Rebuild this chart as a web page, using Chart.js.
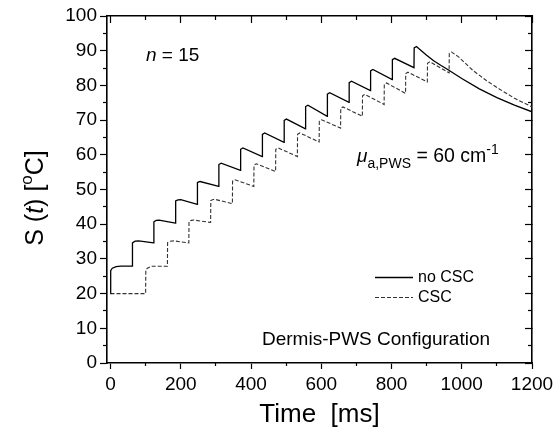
<!DOCTYPE html>
<html>
<head>
<meta charset="utf-8">
<script src="https://cdn.jsdelivr.net/npm/chart.js@4.4.1/dist/chart.umd.min.js"></script>
<style>
    html, body { margin: 0; padding: 0; background: #fff; }
    #chart { display: block; }
</style>
</head>
<body>
<canvas id="chart" width="553" height="434"></canvas>
<script>
(function () {
    "use strict";

    // values (time in ms, temperature in oC)
    var noCscTime = [0, 0.5, 5, 16, 30, 62,
        62.5, 70, 80, 123,
        123.5, 130, 138, 185,
        185.5, 192, 200, 247,
        247.5, 255, 308,
        308.5, 315, 370,
        370.5, 377, 432,
        432.5, 439, 494,
        494.5, 501, 555,
        555.5, 562, 617,
        617.5, 624, 679,
        679.5, 686, 740,
        740.5, 747, 802,
        802.5, 809, 864,
        864.5, 871, 880, 900, 920, 940, 960, 1000, 1050, 1100, 1150, 1200];
    var noCscTemp = [20, 26.6, 27.3, 27.8, 27.9, 27.9,
        34.6, 35.1, 35.2, 34.6,
        40.7, 41.1, 41.2, 40.3,
        46.7, 47.0, 47.1, 45.7,
        52.0, 52.3, 50.9,
        57.2, 57.6, 55.5,
        61.6, 62.0, 59.5,
        65.9, 66.3, 63.6,
        69.9, 70.3, 67.5,
        73.9, 74.3, 71.1,
        77.5, 77.9, 75.1,
        80.8, 81.2, 78.5,
        84.2, 84.6, 81.7,
        87.4, 87.8, 85.1,
        90.8, 91.2, 90.4, 88.7, 87.1, 85.8, 84.6, 82.0, 79.0, 76.5, 74.3, 72.4];

    var cscTime = [0, 100,
        100.5, 105, 116, 162,
        162.5, 170, 180, 223,
        223.5, 230, 238, 285,
        285.5, 292, 300, 347,
        347.5, 354, 408,
        408.5, 415, 470,
        470.5, 477, 532,
        532.5, 539, 594,
        594.5, 601, 655,
        655.5, 662, 717,
        717.5, 724, 779,
        779.5, 786, 840,
        840.5, 847, 902,
        902.5, 909, 964,
        964.5, 971, 990, 1032, 1070, 1108, 1150, 1200];
    var cscTemp = [20, 20,
        26.9, 27.3, 27.9, 27.9,
        34.7, 35.1, 35.2, 34.6,
        40.8, 41.1, 41.2, 40.5,
        46.8, 47.1, 47.1, 45.9,
        52.4, 52.8, 50.9,
        57.0, 57.4, 55.2,
        61.6, 62.0, 59.5,
        65.9, 66.3, 63.7,
        69.7, 70.1, 67.7,
        73.4, 73.8, 71.1,
        77.0, 77.4, 74.5,
        80.3, 80.7, 77.7,
        83.4, 83.8, 81.0,
        86.4, 86.8, 83.6,
        89.2, 89.6, 88.3, 84.3, 81.4, 78.9, 76.3, 73.8];

    var xMajorTicks = [0, 200, 400, 600, 800, 1000, 1200];
    var xMinorTicks = [100, 300, 500, 700, 900, 1100];
    var yMajorTicks = [0, 10, 20, 30, 40, 50, 60, 70, 80, 90, 100];
    var yMinorTicks = [5, 15, 25, 35, 45, 55, 65, 75, 85, 95];

    var FONT = "'Liberation Sans', Arial, Helvetica, sans-serif";
    var X_MIN = -10, X_MAX = 1200, Y_MIN = 0, Y_MAX = 100;

    Chart.defaults.font.family = FONT;
    Chart.defaults.color = "#000";

    function ToPoints(xs, ys) {
        return xs.map(function (x, i) {
            return { x: x, y: ys[i] };
        });
    }

    function FixTicks(values) {
        return function (scale) {
            scale.ticks = values.map(function (v) {
                return { value: v };
            });
        };
    }

    function PlainLabel(value) {
        return String(value);
    }

    // tick-only axis of zero size (minor ticks, and the mirrored top/right frame)
    function EdgeScale(axis, position, values, tickLength, weight, showBorder) {
        return {
            type: "linear",
            axis: axis,
            position: position,
            weight: weight,
            min: axis === "x" ? X_MIN : Y_MIN,
            max: axis === "x" ? X_MAX : Y_MAX,
            afterBuildTicks: FixTicks(values),
            afterFit: function (scale) {
                if (axis === "x") {
                    scale.height = 0;
                } else {
                    scale.width = 0;
                }
                scale.paddingLeft = scale.paddingRight = 0;
                scale.paddingTop = scale.paddingBottom = 0;
            },
            ticks: { display: false },
            border: { display: showBorder, color: "#000", width: 1.6 },
            grid: { drawOnChartArea: false, tickLength: tickLength, tickColor: "#000", tickWidth: 1.2 }
        };
    }

    function DrawRuns(ctx, runs, x, y) {
        runs.forEach(function (r) {
            ctx.font = (r.italic ? "italic " : "") + r.size + "px " + FONT;
            ctx.fillText(r.text, x, y + (r.dy || 0));
            x += ctx.measureText(r.text).width;
        });
    }

    function RunsWidth(ctx, runs) {
        var w = 0;
        runs.forEach(function (r) {
            ctx.font = (r.italic ? "italic " : "") + r.size + "px " + FONT;
            w += ctx.measureText(r.text).width;
        });
        return w;
    }

    var annotations = {
        id: "annotations",
        afterDraw: function (chart) {
            var ctx = chart.ctx;
            ctx.save();
            ctx.fillStyle = "#000";
            ctx.textBaseline = "alphabetic";
            ctx.textAlign = "left";

            // y axis title, rotated
            var yTitle = [
                { text: "S (", size: 25 },
                { text: "t", size: 25, italic: true },
                { text: ") [", size: 25 },
                { text: "o", size: 17, dy: -11 },
                { text: "C]", size: 25 }
            ];
            ctx.save();
            ctx.translate(43, 198);
            ctx.rotate(-Math.PI / 2);
            DrawRuns(ctx, yTitle, -RunsWidth(ctx, yTitle) / 2, 0);
            ctx.restore();

            DrawRuns(ctx, [
                { text: "n", size: 19, italic: true },
                { text: " = 15", size: 19 }
            ], 146, 61);

            DrawRuns(ctx, [
                { text: "\u03bc", size: 19, italic: true },
                { text: "a,PWS", size: 14, dy: 6 },
                { text: " = 60 cm", size: 19.5 },
                { text: "-1", size: 14, dy: -8 }
            ], 357, 162);

            DrawRuns(ctx, [{ text: "Dermis-PWS Configuration", size: 19 }], 262, 345);

            // legend
            chart.data.datasets.forEach(function (ds, i) {
                var y = 277.5 + i * 20;
                ctx.save();
                ctx.strokeStyle = ds.borderColor;
                ctx.lineWidth = ds.borderWidth;
                ctx.setLineDash(ds.borderDash || []);
                ctx.beginPath();
                ctx.moveTo(375, y);
                ctx.lineTo(413, y);
                ctx.stroke();
                ctx.restore();
                ctx.font = "16px " + FONT;
                ctx.textBaseline = "middle";
                ctx.fillText(ds.label, 418, y);
            });
            ctx.restore();
        }
    };

    new Chart(document.getElementById("chart"), {
        type: "line",
        data: {
            datasets: [{
                label: "no CSC",
                data: ToPoints(noCscTime, noCscTemp),
                borderColor: "#000",
                borderWidth: 1.3,
                pointRadius: 0,
                tension: 0,
                fill: false
            }, {
                label: "CSC",
                data: ToPoints(cscTime, cscTemp),
                borderColor: "#333",
                borderWidth: 1.1,
                borderDash: [4, 2],
                pointRadius: 0,
                tension: 0,
                fill: false
            }]
        },
        options: {
            responsive: false,
            animation: false,
            events: [],
            layout: { padding: { left: 0, top: 16, right: 21, bottom: 0 } },
            plugins: {
                legend: { display: false },
                tooltip: { enabled: false },
                title: { display: false }
            },
            scales: {
                x: {
                    type: "linear",
                    position: "bottom",
                    weight: 1,
                    min: X_MIN,
                    max: X_MAX,
                    afterBuildTicks: FixTicks(xMajorTicks),
                    afterFit: function (scale) {
                        scale.height = 71;
                        scale.paddingLeft = scale.paddingRight = 0;
                    },
                    border: { color: "#000", width: 1.6 },
                    grid: { drawOnChartArea: false, tickLength: 6, tickColor: "#000", tickWidth: 1.2 },
                    ticks: { font: { size: 19 }, padding: 4, maxRotation: 0, callback: PlainLabel },
                    title: {
                        display: true,
                        text: "Time  [ms]",
                        font: { size: 26 },
                        padding: { top: 0, bottom: 4 }
                    }
                },
                xMinor: EdgeScale("x", "bottom", xMinorTicks, 3, 0, false),
                xTop: EdgeScale("x", "top", xMajorTicks, -7, 0, true),
                xTopMinor: EdgeScale("x", "top", xMinorTicks, -4, 0, false),
                y: {
                    type: "linear",
                    position: "left",
                    weight: 1,
                    min: Y_MIN,
                    max: Y_MAX,
                    afterBuildTicks: FixTicks(yMajorTicks),
                    afterFit: function (scale) {
                        scale.width = 107;
                        scale.paddingTop = scale.paddingBottom = 0;
                    },
                    border: { color: "#000", width: 1.6 },
                    grid: { drawOnChartArea: false, tickLength: 7, tickColor: "#000", tickWidth: 1.2 },
                    ticks: { font: { size: 19 }, padding: 3, callback: PlainLabel }
                },
                yMinor: EdgeScale("y", "left", yMinorTicks, 4, 0, false),
                yRight: EdgeScale("y", "right", yMajorTicks, -7, 0, true),
                yRightMinor: EdgeScale("y", "right", yMinorTicks, -4, 0, false)
            }
        },
        plugins: [annotations]
    });
})();
</script>
</body>
</html>
